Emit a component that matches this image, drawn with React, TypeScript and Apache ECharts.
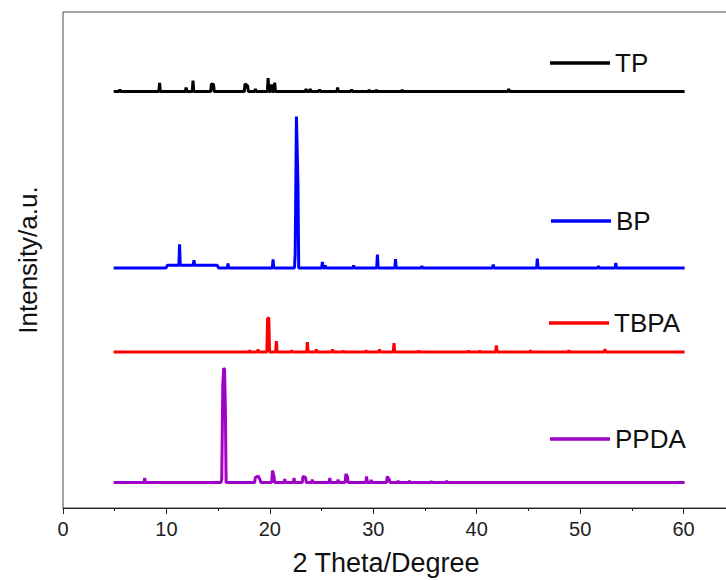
import React, { useEffect, useRef } from "react";
import * as echarts from "echarts";

// ---- data (2θ in degrees, intensity in arbitrary units) ----
const seriesNames = ["TP", "BP", "TBPA", "PPDA"];
const seriesColors = ["#000000", "#0000ff", "#ff0000", "#a000c8"];

// vertical offsets (baselines) of the stacked patterns
const tpBase = 416.5;
const bpBase = 240;
const tbpaBase = 156;
const ppdaBase = 25.5;

// scan range
const scanStart = 4.9;
const scanEnd = 60.1;

// peaks: [2θ, height above baseline]
const tpPeaks: [number, number][] = [
  [5.5, 2], [9.34, 8.5], [11.9, 4], [12.57, 11], [14.35, 7.5], [14.55, 7],
  [17.6, 7.5], [17.85, 5.5], [18.6, 2.5], [19.83, 13.5], [20.15, 7], [20.47, 9],
  [23.5, 2.5], [23.9, 2.5], [24.8, 2], [26.55, 4], [27.9, 2], [29.6, 1.5],
  [30.3, 1.5], [32.8, 1.5], [43.1, 2.5],
];
const bpPeaks: [number, number][] = [
  [11.27, 21], [12.66, 5], [15.95, 4.5], [20.31, 8.5], [22.45, 14], [22.57, 151.5],
  [22.72, 82], [25.08, 6], [25.35, 2.5], [28.1, 2.5], [30.4, 13.5], [32.15, 9],
  [34.7, 2], [41.6, 3.5], [45.86, 9.5], [51.77, 2], [53.45, 5],
];
const tbpaPeaks: [number, number][] = [
  [18.05, 1.5], [18.86, 2.5], [19.78, 33], [19.9, 34.5], [20.63, 11], [22.1, 1.5],
  [23.63, 10], [24.5, 2.5], [26.05, 2.5], [27.1, 1], [29.3, 1.5], [30.6, 2.5],
  [32.0, 9], [34.4, 1], [39.2, 1], [40.3, 1], [41.9, 6.5], [45.2, 1.5],
  [48.9, 1.5], [52.4, 3],
];
const ppdaPeaks: [number, number][] = [
  [7.9, 4.5], [15.35, 3.5], [15.45, 97], [15.54, 114.5], [15.62, 113], [15.7, 73],
  [18.6, 5], [18.85, 6.5], [19.05, 3], [20.25, 12], [20.4, 6], [21.44, 3.5],
  [22.34, 4.5], [23.2, 6], [23.45, 5], [24.1, 3], [25.8, 4.5], [26.6, 3],
  [27.35, 8.5], [27.5, 6], [29.35, 6], [29.8, 2.5], [31.35, 6], [31.55, 3],
  [32.4, 1.5], [33.5, 1.5], [35.6, 1], [37.1, 1.5],
];
// baseline shifts: [from 2θ, to 2θ, shift]
const bpShifts: [number, number, number][] = [[10.0, 15.0, 2.7]];
const noShifts: [number, number, number][] = [];

const xTicks = [0, 10, 20, 30, 40, 50, 60];

function shiftAt(x: number, shifts: [number, number, number][]) {
  for (const [a, b, s] of shifts) if (x >= a && x <= b) return s;
  return 0;
}

function buildProfile(
  base: number,
  peaks: [number, number][],
  shifts: [number, number, number][]
) {
  const foot = 0.07;
  const pts: [number, number][] = [];
  pts.push([scanStart, base + shiftAt(scanStart, shifts)]);
  const sorted = [...peaks].sort((a, b) => a[0] - b[0]);
  sorted.forEach((p, i) => {
    const prev = sorted[i - 1];
    const next = sorted[i + 1];
    const b = base + shiftAt(p[0], shifts);
    if (!prev || p[0] - prev[0] > 0.25) pts.push([p[0] - foot, b]);
    pts.push([p[0], b + p[1]]);
    if (!next || next[0] - p[0] > 0.25) pts.push([p[0] + foot, b]);
  });
  for (const [a, e, s] of shifts) {
    pts.push([a - 0.05, base], [a + 0.1, base + s], [e - 0.1, base + s], [e + 0.05, base]);
  }
  pts.push([scanEnd, base + shiftAt(scanEnd, shifts)]);
  pts.sort((a, b) => a[0] - b[0]);
  return pts;
}

const FONT = "'Liberation Sans', Arial, sans-serif";

export default function App() {
  const ref = useRef<HTMLDivElement>(null);
  useEffect(() => {
    if (!ref.current) return;
    const chart = echarts.init(ref.current, null, { renderer: "svg" });
    const profiles = [
      buildProfile(tpBase, tpPeaks, noShifts),
      buildProfile(bpBase, bpPeaks, bpShifts),
      buildProfile(tbpaBase, tbpaPeaks, noShifts),
      buildProfile(ppdaBase, ppdaPeaks, noShifts),
    ];
    const legendPos = [
      { left: 550, top: 50 },
      { left: 551, top: 208 },
      { left: 549, top: 310 },
      { left: 550, top: 426 },
    ];
    chart.setOption({
      animation: false,
      backgroundColor: "#ffffff",
      grid: {
        left: 63,
        top: 12,
        bottom: 72,
        right: 13,
        outerBoundsMode: "none",
        containLabel: false,
        show: true,
        borderColor: "#444",
        borderWidth: 1,
        backgroundColor: "transparent",
      },
      legend: seriesNames.map((n, i) => ({
        data: [n],
        left: legendPos[i].left,
        top: legendPos[i].top,
        padding: 0,
        icon: "rect",
        itemWidth: 60,
        itemHeight: 3.5,
        selectedMode: false,
        textStyle: { fontSize: 26, fontFamily: FONT, color: "#111", lineHeight: 26 },
      })),
      xAxis: {
        type: "value",
        min: 0,
        max: 70,
        interval: 10,
        name: "2 Theta/Degree",
        nameLocation: "middle",
        nameGap: 41,
        nameTextStyle: {
          fontSize: 27,
          fontFamily: FONT,
          color: "#111",
          padding: [0, 78, 0, 0],
        },
        axisLine: { show: true, onZero: false, lineStyle: { color: "#222", width: 1 } },
        axisTick: { show: true, length: 6, lineStyle: { color: "#222" } },
        minorTick: { show: true, splitNumber: 2, length: 3, lineStyle: { color: "#222" } },
        axisLabel: {
          fontSize: 20,
          fontFamily: FONT,
          color: "#222",
          margin: 11,
          showMaxLabel: false,
          formatter: (v: number) => (xTicks.includes(v) ? String(v) : ""),
        },
        splitLine: { show: false },
      },
      yAxis: {
        type: "value",
        min: 0,
        max: 496,
        name: "Intensity/a.u.",
        nameLocation: "middle",
        nameGap: 22,
        nameTextStyle: { fontSize: 26, fontFamily: FONT, color: "#111" },
        axisLine: { show: false },
        axisTick: { show: false },
        axisLabel: { show: false },
        splitLine: { show: false },
      },
      series: seriesNames.map((n, i) => ({
        name: n,
        type: "line",
        data: profiles[i],
        showSymbol: false,
        symbol: "none",
        color: seriesColors[i],
        lineStyle: { width: 3, color: seriesColors[i] },
      })),
    });
    return () => chart.dispose();
  }, []);
  return (
    <div
      style={{
        position: "fixed",
        left: 0,
        top: 0,
        width: 726,
        height: 580,
        overflow: "hidden",
        background: "#fff",
      }}
    >
      <div ref={ref} style={{ width: 800, height: 580 }} />
    </div>
  );
}
